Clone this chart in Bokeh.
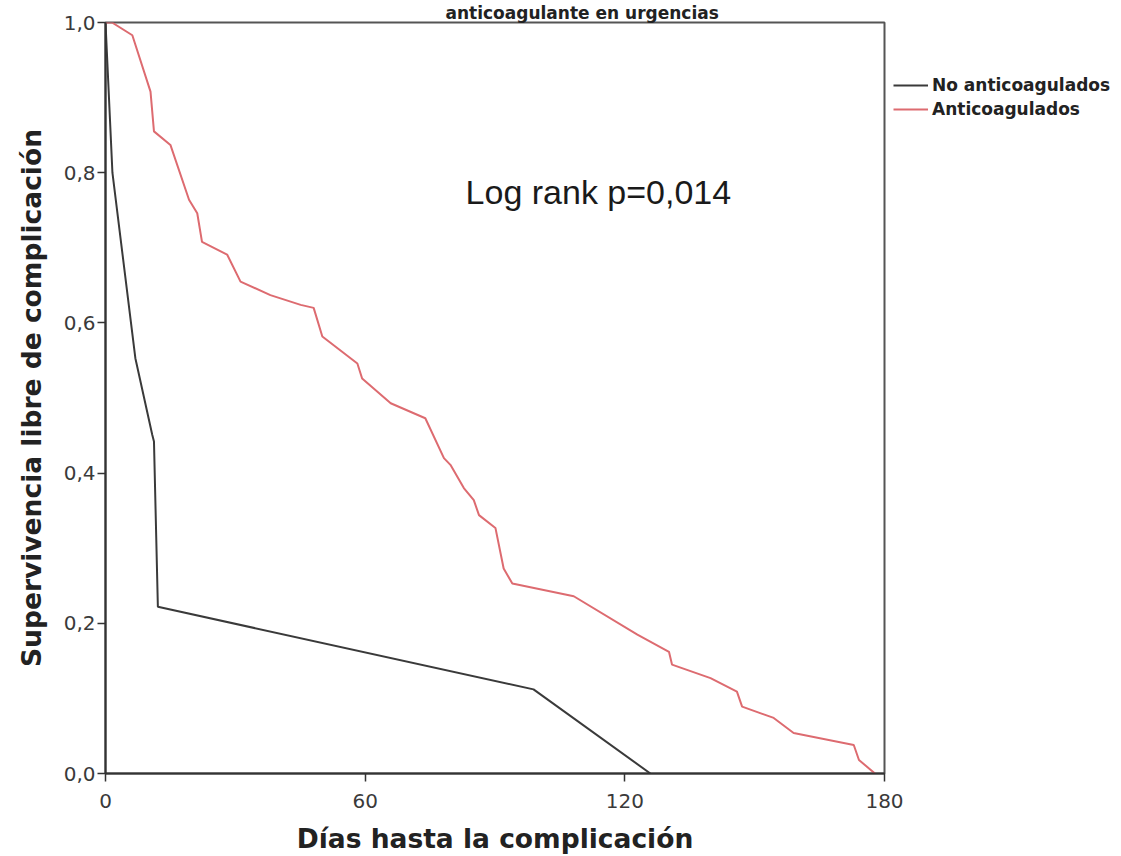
from bokeh.plotting import figure
from bokeh.models import (Range1d, FixedTicker, CustomJSTickFormatter, Label,
                          Legend, LegendItem)
from bokeh.embed import file_html
from bokeh.resources import INLINE

# ---- data ----
no_anti_days = [0, 1.6, 6.9, 10.8, 11.2, 12.1, 98.9, 125.9]
no_anti_surv = [1.0, 0.80, 0.553, 0.451, 0.442, 0.222, 0.112, 0.0]

anti_days = [0, 1.5, 6.2, 10.4, 11.2, 15.0, 19.3, 21.2, 22.3, 28.1, 31.2, 38.1,
             45.1, 48.1, 50.1, 58.2, 59.3, 65.9, 73.9, 78.2, 79.7, 82.8, 85.1,
             86.3, 90.1, 92.0, 94.0, 108.2, 122.9, 130.2, 130.9, 139.8, 145.9,
             147.1, 154.4, 159.0, 172.9, 174.1, 177.8]
anti_surv = [1.0, 1.0, 0.983, 0.908, 0.855, 0.837, 0.764, 0.746, 0.708, 0.691,
             0.655, 0.637, 0.624, 0.620, 0.582, 0.546, 0.526, 0.493, 0.473,
             0.420, 0.411, 0.380, 0.364, 0.344, 0.327, 0.273, 0.253, 0.236,
             0.185, 0.162, 0.145, 0.127, 0.109, 0.089, 0.074, 0.054, 0.038,
             0.018, 0.0]

series_names = ["No anticoagulados", "Anticoagulados"]
x_ticks = [0, 60, 120, 180]
y_ticks = [0.0, 0.2, 0.4, 0.6, 0.8, 1.0]
title_text = "anticoagulante en urgencias"
x_title = "Días hasta la complicación"
y_title = "Supervivencia libre de complicación"
annotation = "Log rank p=0,014"

# ---- figure ----
p = figure(frame_width=779, frame_height=751,
           x_range=Range1d(0, 180), y_range=Range1d(0, 1),
           output_backend="svg", toolbar_location=None,
           min_border_left=105, min_border_right=237, min_border_top=21,
           min_border_bottom=84, background_fill_color="white",
           border_fill_color="white", title=title_text)

p.title.text_font = "DejaVu Sans"
p.title.text_font_style = "bold"
p.title.text_font_size = "17px"
p.title.text_color = "#222222"
p.title.align = "left"
p.title.offset = 340
p.title.standoff = 0

p.xgrid.visible = False
p.ygrid.visible = False
p.outline_line_color = "#555555"
p.outline_line_width = 2

r_no = p.line(no_anti_days, no_anti_surv, line_color="#3a3a3a", line_width=2)
r_an = p.line(anti_days, anti_surv, line_color="#dd6b70", line_width=2)

# axes
xa = p.xaxis[0]
xa.ticker = FixedTicker(ticks=x_ticks)
xa.minor_tick_line_color = None
xa.major_tick_out = 8
xa.major_tick_in = 0
xa.major_tick_line_color = "#333333"
xa.major_tick_line_width = 1.5
xa.axis_line_color = "#333333"
xa.axis_line_width = 2
xa.major_label_text_font = "DejaVu Sans"
xa.major_label_text_font_size = "20px"
xa.major_label_text_color = "#3a3a3a"
xa.major_label_standoff = 12
xa.axis_label = x_title
xa.axis_label_text_font = "DejaVu Sans"
xa.axis_label_text_font_style = "bold"
xa.axis_label_text_font_size = "26.5px"
xa.axis_label_text_color = "#222222"
xa.axis_label_standoff = 12

ya = p.yaxis[0]
ya.ticker = FixedTicker(ticks=y_ticks)
ya.formatter = CustomJSTickFormatter(code="return tick.toFixed(1).replace('.', ',');")
ya.minor_tick_line_color = None
ya.major_tick_out = 8
ya.major_tick_in = 0
ya.major_tick_line_color = "#333333"
ya.major_tick_line_width = 1.5
ya.axis_line_color = "#333333"
ya.axis_line_width = 2
ya.major_label_text_font = "DejaVu Sans"
ya.major_label_text_font_size = "20px"
ya.major_label_text_color = "#3a3a3a"
ya.major_label_standoff = 2
ya.axis_label = y_title
ya.axis_label_text_font = "DejaVu Sans"
ya.axis_label_text_font_style = "bold"
ya.axis_label_text_font_size = "26.5px"
ya.axis_label_text_color = "#222222"
ya.axis_label_standoff = 14

# annotation
p.add_layout(Label(x=83.2, y=0.774, text=annotation, text_font="Liberation Sans",
                   text_font_size="34px", text_baseline="middle", text_align="left",
                   text_color="#1a1a1a"))

legend = Legend(items=[LegendItem(label=series_names[0], renderers=[r_no]),
                       LegendItem(label=series_names[1], renderers=[r_an])],
                location="top_left", orientation="vertical")
legend.margin = 9
legend.padding = 0
legend.spacing = 2
legend.label_height = 22
legend.glyph_height = 22
legend.glyph_width = 35
legend.label_standoff = 4
legend.border_line_color = None
legend.background_fill_alpha = 0
legend.title = "\u00a0"
legend.title_text_font_size = "26px"
legend.title_standoff = 12
legend.label_text_font = "DejaVu Sans"
legend.label_text_font_style = "bold"
legend.label_text_font_size = "17px"
legend.label_text_color = "#222222"
p.add_layout(legend, "right")

open("out.html", "w").write(file_html(p, INLINE))
